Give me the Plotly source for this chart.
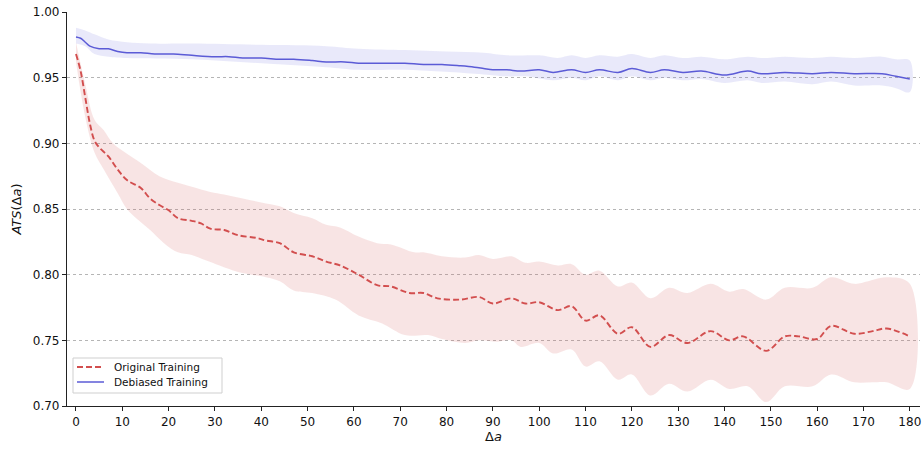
import plotly.graph_objects as go

# Original Training (mean, upper, lower)
orig_x = [0, 1, 2, 3, 4, 5, 7, 9, 11, 14, 16, 18, 20, 22, 25, 27, 29, 32, 35, 39, 41, 44, 47, 51, 54, 57, 61, 65, 68, 72, 75, 78, 83, 87, 90, 94, 97, 100, 104, 107, 110, 113, 117, 120, 124, 128, 132, 137, 141, 144, 149, 153, 156, 160, 163, 168, 172, 175, 180]
orig_mean = [0.968, 0.955, 0.935, 0.915, 0.902, 0.897, 0.890, 0.880, 0.872, 0.866, 0.858, 0.853, 0.849, 0.843, 0.841, 0.839, 0.835, 0.834, 0.830, 0.828, 0.826, 0.824, 0.817, 0.814, 0.810, 0.807, 0.800, 0.792, 0.791, 0.786, 0.786, 0.782, 0.781, 0.783, 0.778, 0.782, 0.778, 0.779, 0.773, 0.776, 0.765, 0.769, 0.755, 0.760, 0.745, 0.754, 0.748, 0.757, 0.750, 0.753, 0.742, 0.753, 0.753, 0.751, 0.761, 0.755, 0.757, 0.759, 0.753]

orig_up_x = [0, 2, 4, 6, 8, 11, 14, 18, 22, 25, 29, 32, 36, 40, 44, 47, 51, 54, 57, 61, 65, 68, 73, 75, 79, 84, 87, 90, 94, 97, 100, 104, 107, 110, 113, 117, 120, 124, 128, 132, 137, 141, 144, 149, 153, 159, 163, 168, 171, 175, 180]
orig_upper = [0.977, 0.945, 0.918, 0.910, 0.900, 0.892, 0.885, 0.875, 0.870, 0.867, 0.863, 0.861, 0.858, 0.855, 0.852, 0.847, 0.843, 0.838, 0.836, 0.829, 0.824, 0.823, 0.817, 0.817, 0.814, 0.813, 0.815, 0.812, 0.814, 0.809, 0.810, 0.807, 0.808, 0.800, 0.803, 0.791, 0.794, 0.782, 0.790, 0.786, 0.793, 0.787, 0.789, 0.781, 0.790, 0.790, 0.798, 0.793, 0.795, 0.798, 0.793]

orig_lo_x = [0, 2, 4, 6, 9, 11, 13, 16, 19, 22, 25, 28, 31, 35, 41, 44, 47, 51, 56, 61, 66, 71, 76, 79, 84, 87, 91, 94, 96, 100, 103, 107, 110, 113, 117, 120, 124, 128, 132, 137, 141, 145, 149, 153, 159, 163, 168, 172, 175, 180]
orig_lower = [0.962, 0.920, 0.893, 0.880, 0.862, 0.850, 0.843, 0.834, 0.824, 0.817, 0.815, 0.811, 0.807, 0.802, 0.798, 0.795, 0.788, 0.786, 0.781, 0.769, 0.763, 0.754, 0.754, 0.751, 0.748, 0.750, 0.749, 0.750, 0.745, 0.748, 0.740, 0.743, 0.730, 0.734, 0.720, 0.724, 0.708, 0.717, 0.711, 0.720, 0.713, 0.715, 0.703, 0.715, 0.715, 0.724, 0.718, 0.718, 0.718, 0.713]

# Debiased Training (mean, upper, lower)
deb_x = [0, 1, 2, 3, 5, 7, 9, 11, 14, 17, 21, 25, 30, 33, 36, 40, 44, 47, 51, 54, 58, 61, 64, 68, 71, 75, 79, 83, 86, 88, 90, 93, 96, 100, 103, 107, 110, 113, 117, 120, 124, 127, 131, 135, 140, 145, 148, 153, 159, 163, 168, 174, 177, 180]
deb_mean = [0.981, 0.980, 0.977, 0.974, 0.972, 0.972, 0.970, 0.969, 0.969, 0.968, 0.968, 0.967, 0.966, 0.966, 0.965, 0.965, 0.964, 0.964, 0.963, 0.962, 0.962, 0.961, 0.961, 0.961, 0.961, 0.960, 0.960, 0.959, 0.958, 0.957, 0.956, 0.956, 0.955, 0.956, 0.954, 0.956, 0.954, 0.956, 0.954, 0.957, 0.954, 0.956, 0.954, 0.955, 0.952, 0.955, 0.953, 0.954, 0.953, 0.954, 0.953, 0.953, 0.951, 0.949]

deb_up_x = [0, 2, 4, 7, 11, 16, 25, 40, 54, 61, 71, 80, 88, 93, 100, 104, 107, 110, 113, 117, 120, 124, 127, 131, 135, 140, 145, 148, 153, 159, 163, 168, 174, 177, 180]
deb_upper = [0.988, 0.986, 0.983, 0.979, 0.977, 0.976, 0.976, 0.975, 0.974, 0.972, 0.971, 0.970, 0.969, 0.967, 0.967, 0.965, 0.967, 0.965, 0.967, 0.966, 0.968, 0.965, 0.967, 0.965, 0.966, 0.964, 0.966, 0.965, 0.966, 0.965, 0.966, 0.965, 0.966, 0.964, 0.963]

deb_lo_x = [0, 2, 4, 7, 11, 25, 40, 54, 61, 71, 86, 93, 97, 103, 107, 110, 113, 117, 120, 124, 127, 131, 135, 140, 145, 148, 153, 159, 163, 168, 174, 177, 180]
deb_lower = [0.976, 0.974, 0.968, 0.966, 0.965, 0.964, 0.961, 0.958, 0.956, 0.956, 0.953, 0.951, 0.951, 0.948, 0.950, 0.948, 0.951, 0.948, 0.951, 0.948, 0.950, 0.948, 0.949, 0.946, 0.948, 0.946, 0.947, 0.945, 0.947, 0.944, 0.944, 0.942, 0.939]

series_names = ["Original Training", "Debiased Training"]
x_ticks = list(range(0, 181, 10))
y_ticks = [0.70, 0.75, 0.80, 0.85, 0.90, 0.95, 1.00]

RED = "#d24e4e"
BLUE = "#5b5bd6"
RED_FILL = "rgba(214, 90, 90, 0.16)"
BLUE_FILL = "rgba(110, 110, 220, 0.15)"
RED_DASH = "6px,3px"

fig = go.Figure()

def band(xu, yu, xl, yl, fill):
    xs = list(xl) + list(reversed(xu))
    ys = list(yl) + list(reversed(yu))
    fig.add_trace(go.Scatter(x=xs, y=ys, mode="lines", line=dict(width=0, shape="spline", smoothing=1.0),
                             fill="toself", fillcolor=fill, hoverinfo="skip", showlegend=False))

band(orig_up_x, orig_upper, orig_lo_x, orig_lower, RED_FILL)
band(deb_up_x, deb_upper, deb_lo_x, deb_lower, BLUE_FILL)

fig.add_trace(go.Scatter(x=orig_x, y=orig_mean, mode="lines", name=series_names[0], showlegend=False,
                         line=dict(color=RED, width=1.9, dash=RED_DASH, shape="spline", smoothing=1.0)))
fig.add_trace(go.Scatter(x=deb_x, y=deb_mean, mode="lines", name=series_names[1], showlegend=False,
                         line=dict(color=BLUE, width=1.5, shape="spline", smoothing=1.0)))

# Compact legend (matplotlib-style) drawn in paper coordinates
L, R_, T, B = 67, 920, 12, 406
W, H = R_ - L, B - T
px = lambda v: (v - L) / W
py = lambda v: (B - v) / H
fig.add_shape(type="rect", xref="paper", yref="paper", x0=px(73), x1=px(222), y0=py(393), y1=py(358),
              line=dict(color="#cfcfcf", width=1), fillcolor="rgba(255,255,255,0.85)", layer="above")
legend_rows = [(367, RED, RED_DASH, 1.9), (382, BLUE, "solid", 1.5)]
for (row_y, col, dash, lw), name in zip(legend_rows, series_names):
    fig.add_shape(type="line", xref="paper", yref="paper", x0=px(77), x1=px(104), y0=py(row_y), y1=py(row_y),
                  line=dict(color=col, width=lw, dash=dash), layer="above")
    fig.add_annotation(xref="paper", yref="paper", x=px(112), y=py(row_y), text=name, showarrow=False,
                       xanchor="left", yanchor="middle", font=dict(size=10.5, family="DejaVu Sans", color="#111"))

font_family = "DejaVu Sans"
fig.update_layout(
    width=922, height=449,
    margin=dict(l=67, r=2, t=12, b=43, autoexpand=False),
    paper_bgcolor="white", plot_bgcolor="white",
    font=dict(family=font_family, size=12, color="#111"),
    showlegend=False,
)
fig.update_xaxes(range=[-1.94, 182.2], tickvals=x_ticks, ticks="outside", ticklen=4, tickwidth=1,
                 tickcolor="#222", showline=True, linecolor="#222", linewidth=1.2,
                 showgrid=False, zeroline=False, tickfont=dict(size=12), automargin=False,
                 title=dict(text="Δ<i>a</i>", font=dict(size=13), standoff=4))
fig.update_yaxes(range=[0.70, 1.00], tickvals=y_ticks, tickformat=".2f", ticks="outside", ticklen=4,
                 tickwidth=1, tickcolor="#222", showline=True, linecolor="#222", linewidth=1.2,
                 showgrid=True, gridcolor="#b5b5b5", griddash="dot", gridwidth=1,
                 zeroline=False, tickfont=dict(size=12), automargin=False,
                 title=dict(text="<i>ATS</i>(Δ<i>a</i>)", font=dict(size=13), standoff=8))

fig.write_html("out.html", config={"displayModeBar": False},
               post_script="document.body.style.margin='0';document.body.style.overflow='hidden';")
